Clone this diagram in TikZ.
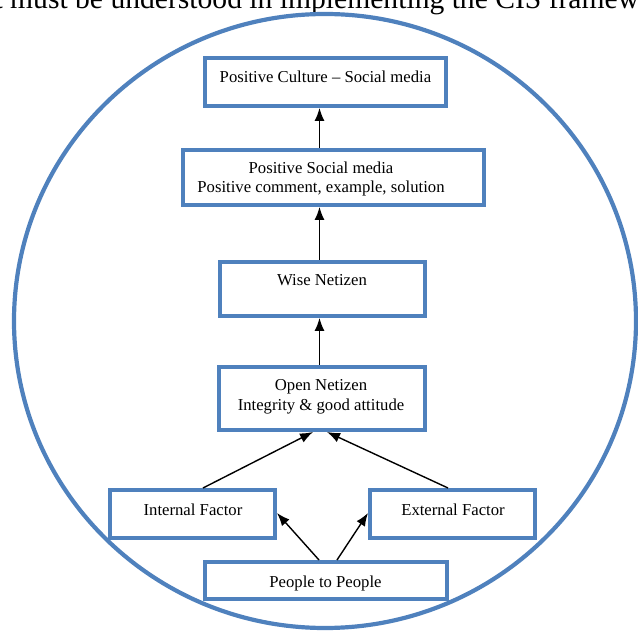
\documentclass[tikz,border=0pt]{standalone}
\usepackage{fontspec}
\setmainfont{Liberation Serif}
\usetikzlibrary{arrows.meta}
\definecolor{boxblue}{HTML}{4F81BD}
\tikzset{
  box/.style={draw=boxblue, line width=4pt, fill=white, inner sep=0pt, outer sep=2pt},
  txt/.style={inner sep=0pt, align=center, font=\fontsize{16.7}{19.5}\selectfont},
  arr/.style={draw=black, line width=1.4pt, -{Latex[length=13pt,width=10pt]}}
}
\begin{document}
\begin{tikzpicture}[x=1pt,y=-1pt]
\useasboundingbox (0,0) rectangle (638,631);
% cut-off caption line at top
\node[anchor=base west, inner sep=0pt, font=\fontsize{29.6}{34}\selectfont] (cap) at (10,9)
  {\llap{that }must be understood in implementing the CIS framework};
% enclosing circle
\draw[boxblue, line width=4.2pt] (325,321) ellipse [x radius=311, y radius=307];
% boxes
\node[box, minimum width=241pt, minimum height=48pt] (b1) at (325.5,82) {};
\node[box, minimum width=301pt, minimum height=55pt] (b2) at (333.5,177.5) {};
\node[box, minimum width=205pt, minimum height=54pt] (b3) at (322.5,289) {};
\node[box, minimum width=206pt, minimum height=63pt] (b4) at (322,398.5) {};
\node[box, minimum width=165pt, minimum height=48pt] (b5) at (192.5,514) {};
\node[box, minimum width=165pt, minimum height=48pt] (b6) at (452.5,514) {};
\node[box, minimum width=242pt, minimum height=37pt] (b7) at (326,580.5) {};
% texts
\node[txt, anchor=base] (t1) at (325.5,83) {Positive Culture -- Social media};
\node[txt] (t2) at (321,179) {Positive Social media\\Positive comment, example, solution};
\node[txt, anchor=base] (t3) at (322,286) {Wise Netizen};
\node[txt] (t4) at (321,397) {Open Netizen\\Integrity \& good attitude};
\node[txt, anchor=base] (t5) at (193,515) {Internal Factor};
\node[txt, anchor=base] (t6) at (453,515) {External Factor};
\node[txt, anchor=base] (t7) at (325.5,587) {People to People};
% helper coordinates for connector positions
\coordinate (xmid) at (319.5,0);
\coordinate (xa) at (203,0);
\coordinate (xb) at (313,0);
\coordinate (xc) at (448,0);
\coordinate (xd) at (327,0);
\coordinate (xe) at (319,0);
\coordinate (xf) at (337,0);
\coordinate (yside) at (0,513);
% connectors
\draw[arr] (b2.north -| xmid) -- (b1.south -| xmid);
\draw[arr] (b3.north -| xmid) -- (b2.south -| xmid);
\draw[arr] (b4.north -| xmid) -- (b3.south -| xmid);
\draw[arr] (b5.north -| xa) -- (b4.south -| xb);
\draw[arr] (b6.north -| xc) -- (b4.south -| xd);
\draw[arr] (b7.north -| xe) -- (b5.east |- yside);
\draw[arr] (b7.north -| xf) -- (b6.west |- yside);
\end{tikzpicture}
\end{document}
